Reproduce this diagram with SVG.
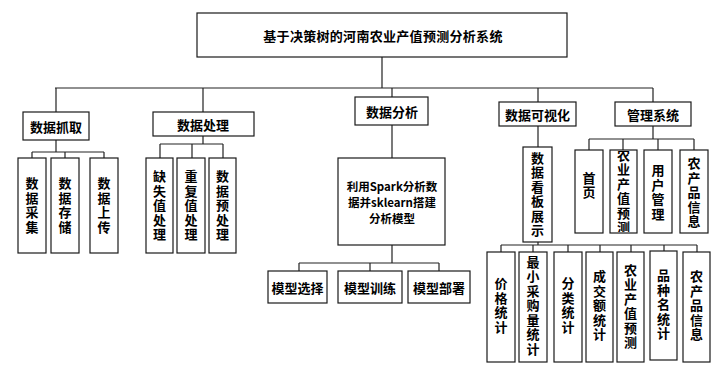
<svg xmlns="http://www.w3.org/2000/svg" width="726" height="376" viewBox="0 0 726 376">
<style>
.box{fill:#fff;stroke:#1a1a1a;stroke-width:1.2}
.t{font-family:"Noto Sans CJK SC","Noto Sans",sans-serif;font-weight:bold;font-size:13px;fill:#000;text-anchor:middle;dominant-baseline:central}
.v{font-family:"Noto Sans CJK SC","Noto Sans",sans-serif;font-weight:bold;font-size:13px;fill:#000;text-anchor:middle;writing-mode:vertical-rl;letter-spacing:1.5px}
.s{font-size:11.5px}
.c{fill:none;stroke:#222;stroke-width:1.2}
</style>
<defs>
<clipPath id="clipA"><rect x="610" y="151" width="27" height="81"/></clipPath>
</defs>
<rect width="726" height="376" fill="#fff"/>
<g id="connectors" class="c">
<path d="M382,57V88M55,88H653M56,88V112M203,88V112M392,88V97M538,88V102M653,88V102"/>
<path d="M56,140V152M32,152H104M32,152V158M65,152V158M104,152V158"/>
<path d="M203,136V144M160,144H223M160,144V158M192,144V158M223,144V158"/>
<path d="M392,125V158M392,245V263M299,263H439M299,263V271M370,263V271M439,263V271"/>
<path d="M538,126V147M538,242V245M501,245H697M501,245V252M533,245V252M568,245V252M600,245V252M631,245V252M664,245V252M697,245V252"/>
<path d="M653,126V139M589,139H694M589,139V150M623,139V150M658,139V150M694,139V150"/>
</g>
<g id="root"><rect class="box" x="197" y="13" width="370" height="44"/><text class="t" x="383" y="35" letter-spacing="0.3">基于决策树的河南农业产值预测分析系统</text></g>
<g id="n_zhuaqu"><rect class="box" x="23" y="112" width="66" height="28"/><text class="t" x="56" y="126">数据抓取</text></g>
<g id="n_caiji"><rect class="box" x="18" y="158" width="28" height="95"/><text class="v" x="32" y="206">数据采集</text></g>
<g id="n_cunchu"><rect class="box" x="51" y="158" width="28" height="95"/><text class="v" x="65" y="206">数据存储</text></g>
<g id="n_shangchuan"><rect class="box" x="90" y="158" width="28" height="95"/><text class="v" x="104" y="206">数据上传</text></g>
<g id="n_chuli"><rect class="box" x="153" y="112" width="101" height="24"/><text class="t" x="203" y="124">数据处理</text></g>
<g id="n_queshi"><rect class="box" x="146" y="158" width="27" height="95"/><text class="v" x="159.5" y="206">缺失值处理</text></g>
<g id="n_chongfu"><rect class="box" x="177" y="158" width="28" height="95"/><text class="v" x="191" y="206">重复值处理</text></g>
<g id="n_yuchuli"><rect class="box" x="209" y="158" width="27" height="95"/><text class="v" x="222.5" y="206">数据预处理</text></g>
<g id="n_fenxi"><rect class="box" x="355" y="97" width="73" height="28"/><text class="t" x="392" y="111">数据分析</text></g>
<g id="n_spark"><rect class="box" x="338" y="158" width="107" height="87"/><text class="t s"><tspan x="392" y="186">利用Spark分析数</tspan><tspan x="392" y="202">据并sklearn搭建</tspan><tspan x="392" y="218">分析模型</tspan></text></g>
<g id="n_xuanze"><rect class="box" x="268" y="271" width="59" height="32"/><text class="t" x="297.5" y="287">模型选择</text></g>
<g id="n_xunlian"><rect class="box" x="338" y="271" width="64" height="32"/><text class="t" x="370" y="287">模型训练</text></g>
<g id="n_bushu"><rect class="box" x="408" y="271" width="62" height="32"/><text class="t" x="439" y="287">模型部署</text></g>
<g id="n_keshihua"><rect class="box" x="499" y="102" width="77" height="24"/><text class="t" x="537.5" y="114">数据可视化</text></g>
<g id="n_kanban"><rect class="box" x="523" y="147" width="29" height="95"/><text class="v" x="537.5" y="195">数据看板展示</text></g>
<g id="n_jiage"><rect class="box" x="487" y="252" width="28" height="110"/><text class="v" x="501" y="306">价格统计</text></g>
<g id="n_zuixiao"><rect class="box" x="519" y="252" width="28" height="110"/><text class="v" x="533" y="306">最小采购量统计</text></g>
<g id="n_fenlei"><rect class="box" x="554" y="252" width="28" height="110"/><text class="v" x="568" y="306">分类统计</text></g>
<g id="n_chengjiao"><rect class="box" x="586" y="252" width="27" height="110"/><text class="v" x="599.5" y="306">成交额统计</text></g>
<g id="n_chanzhi"><rect class="box" x="617" y="252" width="27" height="110"/><text class="v" x="630.5" y="307">农业产值预测</text></g>
<g id="n_pinzhong"><rect class="box" x="650" y="251" width="27" height="109"/><text class="v" x="663.5" y="305">品种名统计</text></g>
<g id="n_xinxi1"><rect class="box" x="683" y="252" width="27" height="110"/><text class="v" x="696.5" y="306">农产品信息</text></g>
<g id="n_guanli"><rect class="box" x="615" y="102" width="76" height="24"/><text class="t" x="653" y="114">管理系统</text></g>
<g id="n_shouye"><rect class="box" x="575" y="150" width="28" height="83"/><text class="v" x="589" y="186">首页</text></g>
<g id="n_yuce"><rect class="box" x="610" y="150" width="27" height="83"/><text class="v" x="623.5" y="192" clip-path="url(#clipA)">农业产值预测</text></g>
<g id="n_yonghu"><rect class="box" x="644" y="150" width="28" height="83"/><text class="v" x="658" y="193">用户管理</text></g>
<g id="n_xinxi2"><rect class="box" x="680" y="150" width="28" height="83"/><text class="v" x="694" y="193">农产品信息</text></g>
</svg>
